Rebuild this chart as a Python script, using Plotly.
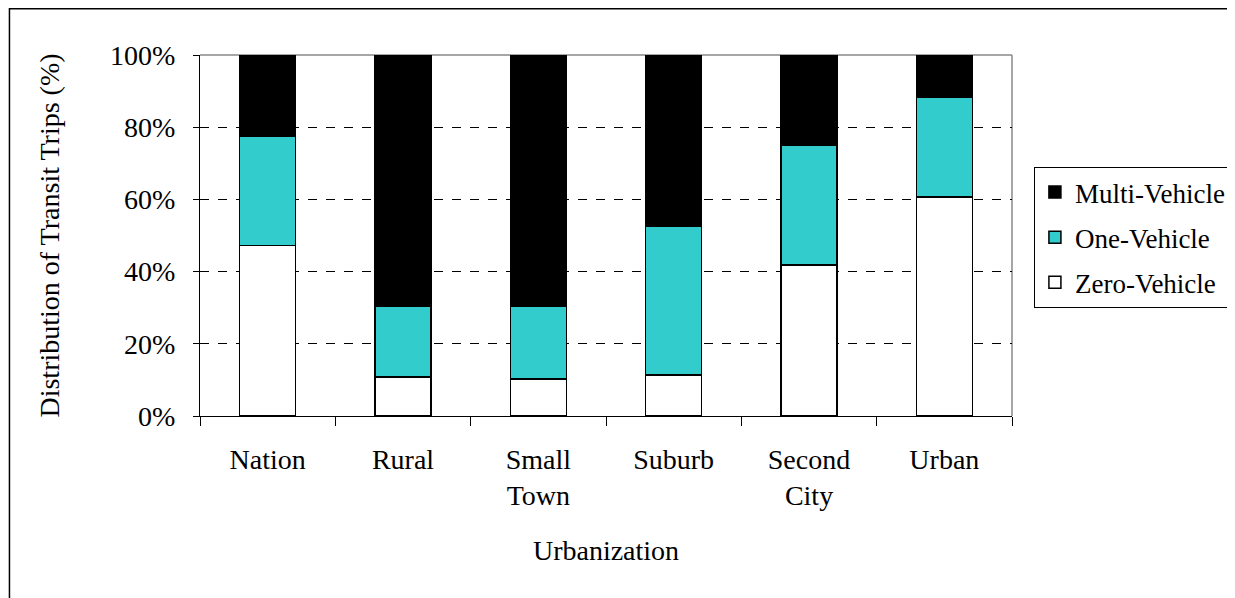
import plotly.graph_objects as go

categories = ["Nation", "Rural", "Small<br>Town", "Suburb", "Second<br>City", "Urban"]
zero_vehicle = [47.3, 10.8, 10.3, 11.3, 41.8, 60.6]
one_vehicle = [30.2, 19.5, 20.1, 41.2, 33.2, 27.6]
multi_vehicle = [22.5, 69.7, 69.6, 47.5, 25.0, 11.8]
y_ticks = [0, 20, 40, 60, 80, 100]
y_tick_labels = ["0%", "20%", "40%", "60%", "80%", "100%"]

FONT = "Liberation Serif"

ML, MT, PW, PH = 192, 47, 815, 361
W, H = 1235, 598

fig = go.Figure()
series = [
    ("Zero-Vehicle", zero_vehicle, "#FFFFFF", 3),
    ("One-Vehicle", one_vehicle, "#33CCCC", 2),
    ("Multi-Vehicle", multi_vehicle, "#000000", 1),
]
for name, vals, color, rank in series:
    fig.add_trace(go.Bar(
        x=categories, y=vals, name=name, legendgroup=name, legendrank=rank,
        marker=dict(color=color, line=dict(color="black", width=1.5)),
    ))

def px_x(p):
    return (p - ML) / PW

def px_y(p):
    return (MT + PH - p) / PH

fig.update_layout(
    barmode="stack",
    bargap=0.587,
    width=W, height=H,
    margin=dict(l=ML, r=W - ML - PW, t=MT, b=H - MT - PH),
    paper_bgcolor="white", plot_bgcolor="white",
    font=dict(family=FONT, color="black", size=28),
    showlegend=True,
    legend=dict(
        x=px_x(1029), y=px_y(159), xanchor="left", yanchor="top",
        traceorder="grouped", tracegroupgap=7,
        bordercolor="black", borderwidth=1, bgcolor="white",
        font=dict(family=FONT, size=27, color="black"),
    ),
    xaxis=dict(
        showline=True, linecolor="black", linewidth=1,
        ticks="outside", ticklen=9, tickcolor="black", tickson="boundaries",
        tickfont=dict(family=FONT, size=28, color="black"),
        ticklabelstandoff=18,
        title=dict(text="Urbanization", font=dict(family=FONT, size=28, color="black"), standoff=30),
        showgrid=False,
    ),
    yaxis=dict(
        range=[0, 100], tickvals=y_ticks, ticktext=y_tick_labels,
        showline=True, linecolor="black", linewidth=1,
        ticks="outside", ticklen=6, tickcolor="black",
        tickfont=dict(family=FONT, size=28, color="black"),
        ticklabelstandoff=12,
        showgrid=True, gridcolor="black", gridwidth=1, griddash="dash",
        zeroline=False,
        title=dict(text="Distribution of Transit Trips (%)", font=dict(family=FONT, size=28, color="black"), standoff=42),
    ),
    shapes=[
        dict(type="line", xref="paper", yref="paper", x0=0, x1=1, y0=1, y1=1,
             line=dict(color="#888888", width=1.5), layer="between"),
        dict(type="line", xref="paper", yref="paper", x0=1, x1=1, y0=0, y1=1,
             line=dict(color="#888888", width=1.5), layer="between"),
        dict(type="rect", xref="paper", yref="paper",
             x0=px_x(0.75), x1=px_x(1226),
             y0=px_y(640), y1=px_y(0.75),
             line=dict(color="black", width=1.5), fillcolor="rgba(0,0,0,0)", layer="above"),
    ],
)

fig.write_html("out.html")
